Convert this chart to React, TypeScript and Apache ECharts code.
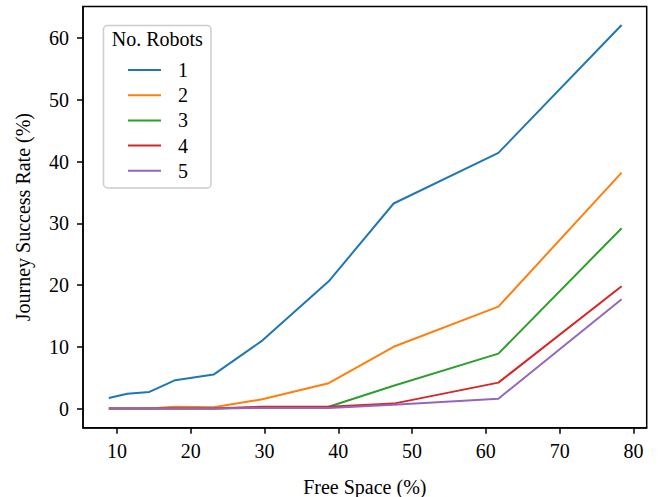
import React, { useEffect, useRef } from "react";
import * as echarts from "echarts";

const freeSpace = [8.9, 11.4, 14.4, 17.9, 23.1, 29.7, 38.7, 47.5, 61.7, 78.4];
const robots1 = [1.7, 2.4, 2.7, 4.6, 5.5, 11.0, 20.6, 33.2, 41.4, 62.1];
const robots2 = [0, 0, 0, 0.3, 0.2, 1.5, 4.1, 10.0, 16.5, 38.2];
const robots3 = [0, 0, 0, 0, 0, 0.2, 0.3, 3.7, 8.9, 29.2];
const robots4 = [0, 0, 0, 0, 0, 0.3, 0.3, 0.8, 4.2, 19.8];
const robots5 = [0, 0, 0, 0, 0, 0.1, 0.1, 0.6, 1.6, 17.7];
const seriesNames = ["1", "2", "3", "4", "5"];
const seriesValues = [robots1, robots2, robots3, robots4, robots5];
const colors = ["#1f77b4", "#ff7f0e", "#2ca02c", "#d62728", "#9467bd"];
const xTicks = [10, 20, 30, 40, 50, 60, 70, 80];
const yTicks = [0, 10, 20, 30, 40, 50, 60];

const FONT = "'Liberation Serif', 'Times New Roman', serif";

export default function App() {
  const ref = useRef<HTMLDivElement>(null);
  useEffect(() => {
    if (!ref.current) return;
    const chart = echarts.init(ref.current, undefined, { renderer: "svg" });
    const axisCommon = {
      axisLine: { show: true, onZero: false, lineStyle: { color: "#000", width: 1.5 } },
      axisTick: { show: true, length: 6, lineStyle: { color: "#000", width: 1.5 } },
      splitLine: { show: false },
      nameTextStyle: { fontFamily: FONT, fontSize: 20, color: "#000" },
    };
    chart.setOption({
      animation: false,
      backgroundColor: "#fff",
      grid: {
        left: 83,
        top: 6.5,
        right: 18.3,
        bottom: 69.3,
        containLabel: false,
        outerBoundsMode: "none",
        show: true,
        borderColor: "#000",
        borderWidth: 1.5,
        backgroundColor: "transparent",
      },
      xAxis: {
        type: "value",
        min: 5.4,
        max: 81.8,
        name: "Free Space (%)",
        nameLocation: "middle",
        nameGap: 49,
        ...axisCommon,
        axisTick: { ...axisCommon.axisTick, customValues: xTicks },
        axisLabel: {
          customValues: xTicks,
          fontFamily: FONT,
          fontSize: 20,
          color: "#000",
          margin: 13,
        },
      },
      yAxis: {
        type: "value",
        min: -3.1,
        max: 65.1,
        name: "Journey Success Rate (%)",
        nameLocation: "middle",
        nameGap: 50,
        nameRotate: 90,
        ...axisCommon,
        axisTick: { ...axisCommon.axisTick, customValues: yTicks },
        axisLabel: {
          customValues: yTicks,
          fontFamily: FONT,
          fontSize: 20,
          color: "#000",
          margin: 14,
        },
      },
      legend: {
        orient: "vertical",
        left: 128,
        top: 60,
        padding: 0,
        itemWidth: 33,
        itemHeight: 2,
        itemGap: 5.2,
        icon: "rect",
        data: seriesNames,
        textStyle: {
          fontFamily: FONT,
          fontSize: 20,
          color: "#000",
          lineHeight: 20,
          padding: [0, 0, 0, 12],
        },
      },
      graphic: [
        {
          type: "rect",
          z: 0,
          shape: { x: 103.5, y: 25.5, width: 107.5, height: 162.5, r: 4 },
          style: { fill: "rgba(255,255,255,0.8)", stroke: "#cccccc", lineWidth: 1.5 },
        },
        {
          type: "text",
          z: 5,
          x: 157.3,
          y: 39,
          style: {
            text: "No. Robots",
            fontFamily: FONT,
            fontSize: 20,
            fill: "#000",
            align: "center",
            verticalAlign: "middle",
          },
        },
      ],
      series: seriesNames.map((name, i) => ({
        name,
        type: "line",
        symbol: "none",
        color: colors[i],
        lineStyle: { width: 2, color: colors[i] },
        data: freeSpace.map((x, j) => [x, seriesValues[i][j]]),
      })),
    });
    return () => chart.dispose();
  }, []);
  return (
    <div
      ref={ref}
      style={{ position: "fixed", left: 0, top: 0, width: 665, height: 497 }}
    />
  );
}
